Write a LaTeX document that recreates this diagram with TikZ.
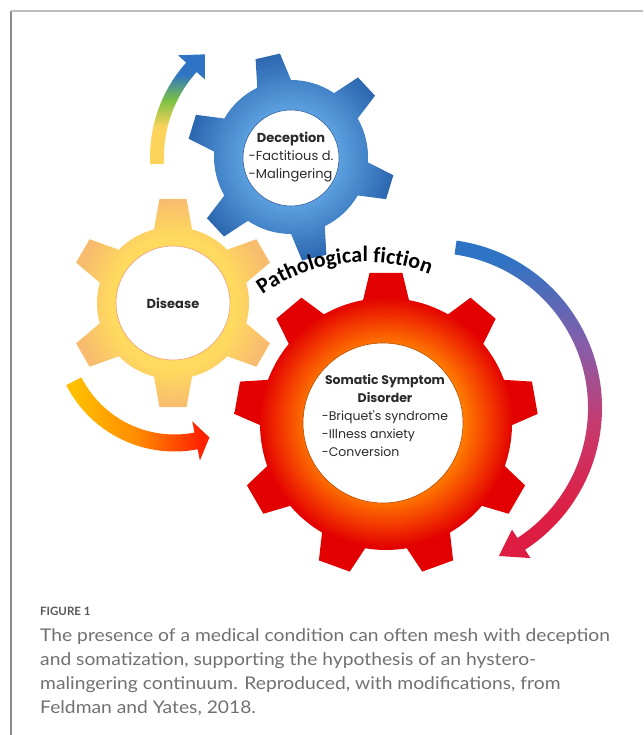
\documentclass[tikz,border=0pt]{standalone}
\usepackage{fontspec}
\setmainfont{Lato}
\newfontfamily\capfont[FakeStretch=1.10]{Lato}
\newfontfamily\cogfont{Poppins}
\newfontfamily\arcfont{Carlito}
\usetikzlibrary{decorations.text}

% colours
\definecolor{frameGrey}{HTML}{8C8C8C}
\definecolor{ruleGrey}{HTML}{BDBDBD}
\definecolor{capGrey}{HTML}{707070}
\definecolor{headGrey}{HTML}{585858}
\definecolor{inkGrey}{HTML}{2B2B2B}
\definecolor{blueLight}{HTML}{5EA3E2}
\definecolor{blueDark}{HTML}{2C67B0}
\definecolor{blueRim}{HTML}{2F5E9E}
\definecolor{yellowRing}{HTML}{FFDA5E}
\definecolor{yellowTip}{HTML}{F7BC6E}
\definecolor{yellowRim}{HTML}{EE9C7C}
\definecolor{redInner}{HTML}{FF8000}
\definecolor{redMid}{HTML}{F43C00}
\definecolor{redOuter}{HTML}{E20000}
\definecolor{redRim}{HTML}{B84A00}
\definecolor{sunYellow}{HTML}{FCD45C}
\definecolor{leafGreen}{HTML}{7DC144}
\definecolor{skyBlue}{HTML}{2F74C4}
\definecolor{violetMid}{HTML}{8A5CA8}
\definecolor{plumRose}{HTML}{C73A6E}
\definecolor{rubyRed}{HTML}{DD1E42}
\definecolor{amber}{HTML}{FFBE00}
\definecolor{tangerine}{HTML}{FF8A00}
\definecolor{flameRed}{HTML}{FF2200}

% gear fills
\pgfdeclareradialshading{bluegear}{\pgfpoint{0bp}{0bp}}{color(0bp)=(blueLight); color(11bp)=(blueLight); color(25bp)=(blueDark); color(50bp)=(blueDark)}
\pgfdeclareradialshading{yellowgear}{\pgfpoint{0bp}{0bp}}{color(0bp)=(yellowRing); color(16bp)=(yellowRing); color(25bp)=(yellowTip); color(50bp)=(yellowTip)}
\pgfdeclareradialshading{redgear}{\pgfpoint{0bp}{0bp}}{color(0bp)=(redInner); color(12.5bp)=(redInner); color(17bp)=(redMid); color(21bp)=(redOuter); color(50bp)=(redOuter)}
% arrow fills
\pgfdeclareverticalshading{risearrow}{100bp}{color(0bp)=(sunYellow); color(42bp)=(sunYellow); color(54bp)=(leafGreen); color(66bp)=(skyBlue); color(100bp)=(skyBlue)}
\pgfdeclareverticalshading{fallarrow}{100bp}{color(0bp)=(rubyRed); color(32bp)=(rubyRed); color(46bp)=(plumRose); color(58bp)=(violetMid); color(72bp)=(skyBlue); color(100bp)=(skyBlue)}
\pgfdeclarehorizontalshading{swingarrow}{100bp}{color(0bp)=(amber); color(28bp)=(amber); color(50bp)=(tangerine); color(72bp)=(flameRed); color(100bp)=(flameRed)}

% teeth, tip radius, body radius, first tooth angle, tip half-angle, base half-angle
\newcommand{\cog}[6]{({#4-#6}:#3)
  \foreach \k [evaluate=\k as \ang using #4+(\k-1)*360/#1] in {1,...,#1}
    { -- ({\ang-#6}:#3) -- ({\ang-#5}:#2) -- ({\ang+#5}:#2) -- ({\ang+#6}:#3)
      arc[start angle=\ang+#6, end angle=\ang+360/#1-#6, radius=#3] } -- cycle}

% radius, half width, head half width, start angle, head angle, tip angle
\newcommand{\bentarrow}[6]{({#4}:{#1+#2})
  arc[start angle=#4, end angle=#5, radius=#1+#2] -- ({#5}:{#1+#3}) -- ({#6}:#1)
  -- ({#5}:{#1-#3}) -- ({#5}:{#1-#2})
  arc[start angle=#5, end angle=#4, radius=#1-#2] -- cycle}

\newcommand{\fictionstyle}{\arcfont\bfseries\fontsize{22}{26}\selectfont}

\begin{document}
\begin{tikzpicture}[x=1pt, y=1pt,
    hole/.style={circle, fill=white, line width=0.6pt, inner sep=0pt},
    cogtext/.style={font=\cogfont\fontsize{13}{18}\selectfont, text=inkGrey, inner sep=0pt},
    caption/.style={anchor=base west, text=capGrey, font=\capfont\fontsize{17.5}{24}\selectfont, inner sep=0pt}]

  \useasboundingbox (0,0) rectangle (643,735);

  % page frame
  \draw[frameGrey, line width=1.2pt] (11,0) -- (11,724);
  \draw[ruleGrey, line width=2pt] (11,724) -- (643,724);

  % arrows
  \shade[shading=risearrow, shift={(291,578)}] \bentarrow{134}{7}{18}{183}{138}{130};
  \shade[shading=fallarrow, shift={(433,327)}] \bentarrow{162}{7}{17}{82}{-57}{-66};
  \shade[shading=swingarrow, shift={(174.5,405)}] \bentarrow{113}{8.5}{20}{207}{281}{288};

  % gears
  \shade[shading=yellowgear, shift={(173,432)}] \cog{6}{105}{76}{30}{7.4}{14.5};
  \shade[shading=bluegear, shift={(291,578)}] \cog{6}{104}{77}{43}{6.9}{13};
  \shade[shading=redgear, shift={(386,311)}] \cog{9}{152}{126}{90}{6.2}{10.5};

  \node[hole, draw=yellowRim, minimum size=114] (disease) at (173,432) {};
  \node[hole, draw=blueRim, minimum size=96] (deception) at (291,577) {};
  \node[hole, draw=redRim, minimum size=160] (somatic) at (383,312) {};

  \node[cogtext, font=\cogfont\bfseries\fontsize{13}{18}\selectfont] (diseasetext) at (disease) {Disease};
  \node[cogtext] (deceptiontext) at ([yshift=1]deception.center) {%
    \begin{tabular}{@{}l@{}}
      \multicolumn{1}{@{}c@{}}{\bfseries Deception}\\
      -Factitious d.\\
      -Malingering
    \end{tabular}};
  \node[cogtext, font=\cogfont\fontsize{12.5}{18}\selectfont] (somatictext) at ([xshift=2,yshift=6]somatic.center) {%
    \begin{tabular}{@{}l@{}}
      \multicolumn{1}{@{}c@{}}{\bfseries Somatic Symptom}\\
      \multicolumn{1}{@{}c@{}}{\bfseries Disorder}\\
      -Briquet's syndrome\\
      -Illness anxiety\\
      -Conversion
    \end{tabular}};

  % curved label over the big gear
  \path[shift={(365,296)}, decorate,
        decoration={text along path, text align=center,
                    text={|\fictionstyle|Pathological fiction}}]
    (128:177) arc[start angle=128, end angle=66, radius=177];

  % caption
  \node[anchor=base west, text=headGrey, inner sep=0pt,
        font=\bfseries\fontsize{11.5}{16}\selectfont] (figlabel) at (40,119) {FIGURE 1};
  \foreach \capline [count=\i] in
      {{The presence of a medical condition can often mesh with deception},
       {and somatization, supporting the hypothesis of an hystero-},
       {malingering continuum. Reproduced, with modifications, from},
       {Feldman and Yates, 2018.}}
    \node[caption] (caption\i) at (40,{117-24*\i}) {\capline};

\end{tikzpicture}
\end{document}
